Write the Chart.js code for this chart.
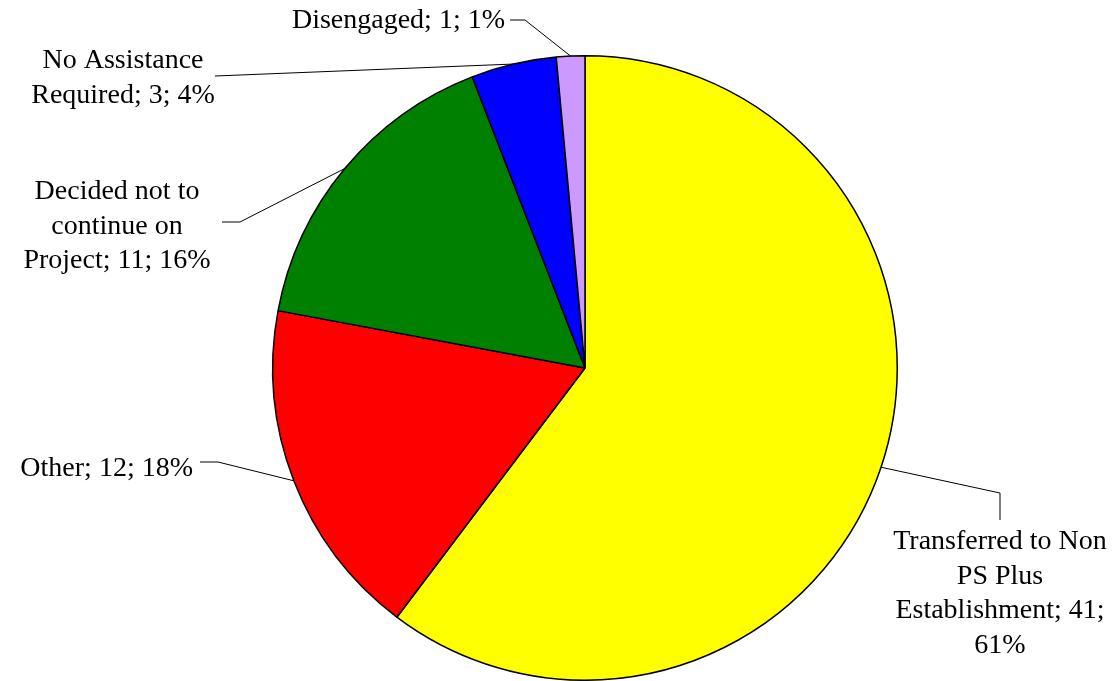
<!DOCTYPE html>
<html>
<head>
<meta charset="utf-8">
<script src="https://cdn.jsdelivr.net/npm/chart.js@4.4.1/dist/chart.umd.min.js"></script>
<style>
  body { margin: 0; background: #fff; }
  canvas { display: block; }
</style>
</head>
<body>
<canvas id="myPie" width="1112" height="681"></canvas>
<script>
// data
const categories = ["Transferred to Non PS Plus Establishment", "Other", "Decided not to continue on Project", "No Assistance Required", "Disengaged"];
const counts = [41, 12, 11, 3, 1];
const percents = [61, 18, 16, 4, 1];
const colors = ["#ffff00", "#ff0000", "#008000", "#0000ff", "#cc99ff"];

// where each label sits + elbow of its leader line
const labelLayout = [
  { x: 1000, y: 542, align: "center", wrap: 225, path: [[1000, 520], [1000, 493]] },
  { x: 193, y: 469, align: "right", wrap: 400, path: [[200, 462], [218, 462]] },
  { x: 117, y: 192, align: "center", wrap: 207, path: [[222, 222], [240, 222]] },
  { x: 123, y: 61, align: "center", wrap: 190, path: [[215, 76]] },
  { x: 505, y: 21, align: "right", wrap: 400, path: [[510, 20], [525, 20]] }
];

const FONT = "28px 'Liberation Serif', 'Times New Roman', serif";
const LINE_H = 34.5;

function wrapText(ctx, text, maxW) {
  let words = text.split(" ");
  let lines = [];
  let cur = "";
  words.forEach((w) => {
    let test = cur ? cur + " " + w : w;
    if (cur && ctx.measureText(test).width > maxW) {
      lines.push(cur);
      cur = w;
    } else {
      cur = test;
    }
  });
  if (cur) lines.push(cur);
  return lines;
}

const leaderLabels = {
  id: "leaderLabels",
  afterDatasetsDraw(chart) {
    const ctx = chart.ctx;
    const meta = chart.getDatasetMeta(0);
    ctx.save();
    ctx.font = FONT;
    ctx.fillStyle = "#000";
    ctx.strokeStyle = "#000";
    ctx.lineWidth = 1;
    ctx.textBaseline = "middle";
    meta.data.forEach((arc, i) => {
      const p = arc.getProps(["x", "y", "startAngle", "endAngle", "outerRadius"], true);
      const mid = (p.startAngle + p.endAngle) / 2;
      const ex = p.x + Math.cos(mid) * p.outerRadius;
      const ey = p.y + Math.sin(mid) * p.outerRadius;
      const lay = labelLayout[i];

      // leader line
      ctx.beginPath();
      ctx.moveTo(lay.path[0][0], lay.path[0][1]);
      for (let k = 1; k < lay.path.length; k++) ctx.lineTo(lay.path[k][0], lay.path[k][1]);
      ctx.lineTo(ex, ey);
      ctx.stroke();

      // text
      const txt = categories[i] + "; " + counts[i] + "; " + percents[i] + "%";
      const lines = wrapText(ctx, txt, lay.wrap);
      ctx.textAlign = lay.align;
      lines.forEach((ln, j) => {
        ctx.fillText(ln, lay.x, lay.y + j * LINE_H);
      });
    });
    ctx.restore();
  }
};

const ctxPie = document.getElementById("myPie");
new Chart(ctxPie, {
  type: "pie",
  data: {
    labels: categories,
    datasets: [{
      data: counts,
      backgroundColor: colors,
      borderColor: "#000",
      borderWidth: 1.5
    }]
  },
  plugins: [leaderLabels],
  options: {
    responsive: false,
    animation: false,
    layout: {
      padding: { left: 272, right: 214, top: 55, bottom: 0 }
    },
    plugins: {
      legend: { display: false },
      tooltip: { enabled: false }
    }
  }
});
</script>
</body>
</html>
